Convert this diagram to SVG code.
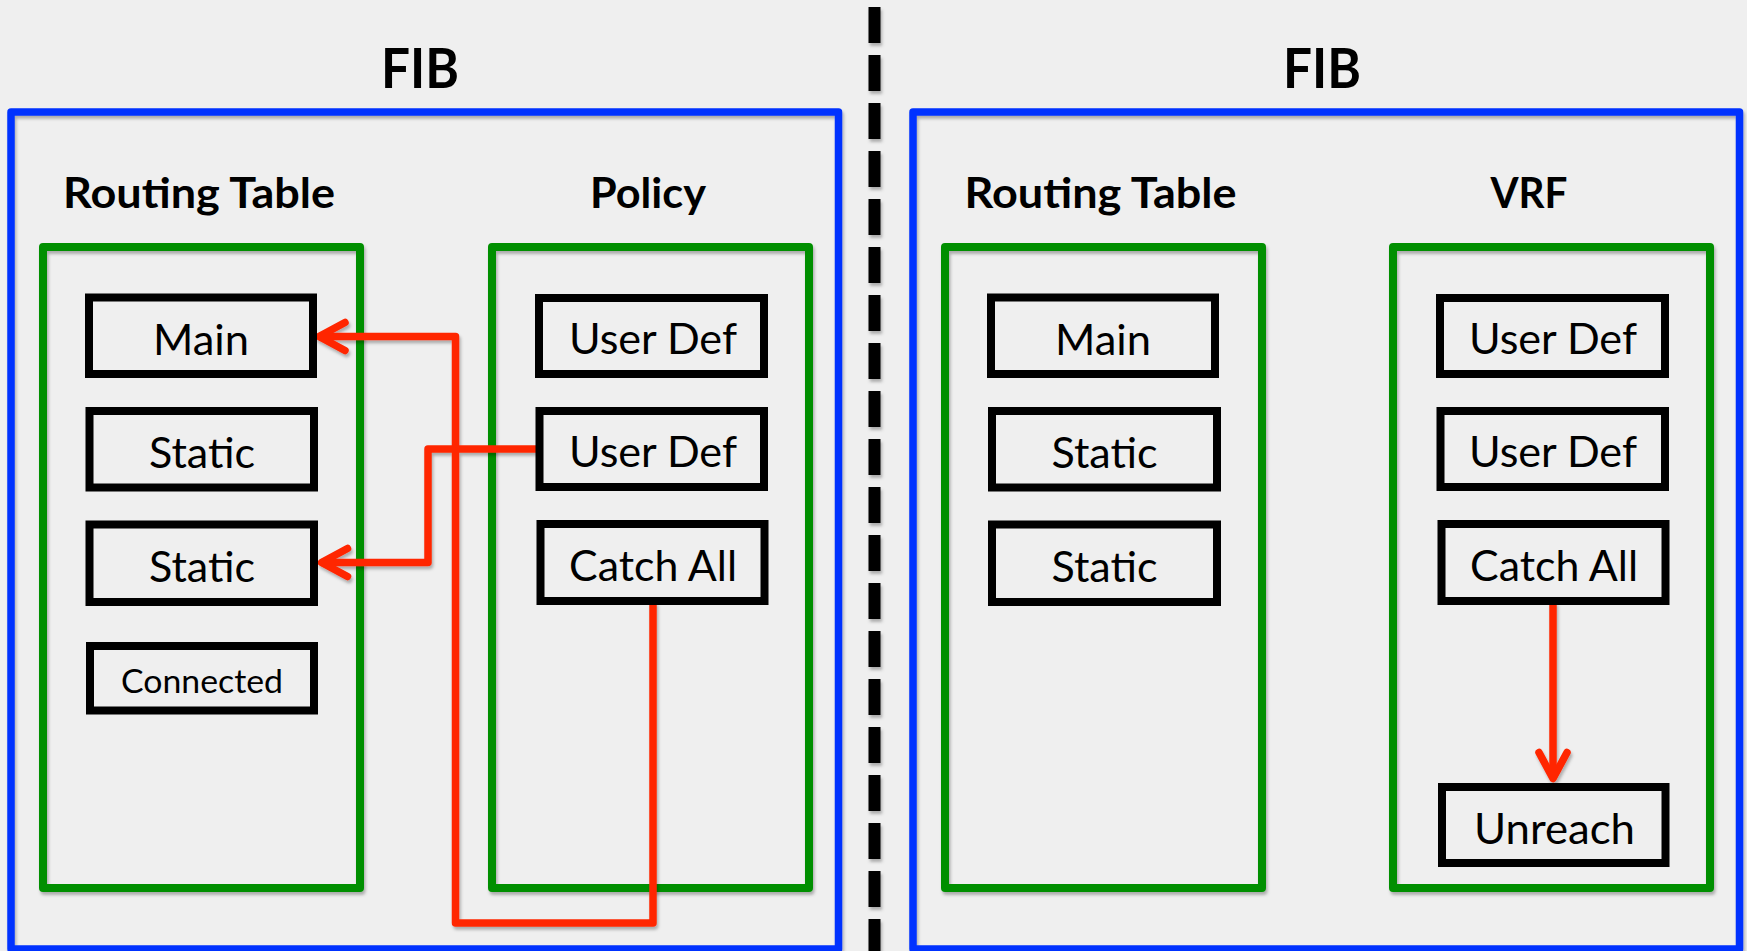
<svg xmlns="http://www.w3.org/2000/svg" width="1747" height="951" viewBox="0 0 1747 951">
  <style>
    .bg { fill: #efefef; }
    .fib { fill: none; stroke: #0433FF; stroke-width: 7.5; stroke-linejoin: round; }
    .table { fill: none; stroke: #008F00; stroke-width: 8; stroke-linejoin: round; }
    .entry { fill: none; stroke: #000; stroke-width: 8; }
    .link { fill: none; stroke: #FF2600; stroke-width: 7.5; stroke-linejoin: round; }
    .title { font-family: Lato, "Open Sans", sans-serif; font-weight: 700; fill: #000; text-anchor: middle; }
    .label { font-family: Lato, "Open Sans", sans-serif; font-weight: 400; fill: #000; text-anchor: middle; }
  </style>
  <defs>
    <filter id="shadow" filterUnits="userSpaceOnUse" x="0" y="0" width="1747" height="951">
      <feDropShadow dx="1.5" dy="3" stdDeviation="1.8" flood-color="#000" flood-opacity="0.28"/>
    </filter>
    <marker id="chev" markerUnits="userSpaceOnUse" viewBox="-35 -25 45 50" markerWidth="45" markerHeight="50" refX="0" refY="0" orient="auto" overflow="visible">
      <path d="M-26,-14 L0,0 L-26,14" fill="none" stroke="#FF2600" stroke-width="7.5" stroke-linecap="round" stroke-linejoin="round"/>
    </marker>
  </defs>

  <rect class="bg" x="0" y="0" width="1747" height="951"/>

  <!-- divider between the two FIB variants -->
  <line id="divider" x1="874.5" y1="7" x2="874.5" y2="951" stroke="#000" stroke-width="12" stroke-dasharray="36 12" filter="url(#shadow)"/>

  <!-- left FIB -->
  <g id="fib-left">
    <text class="title" x="420" y="88" font-size="56" textLength="78" lengthAdjust="spacingAndGlyphs">FIB</text>
    <rect class="fib" x="11" y="112" width="827.5" height="837" filter="url(#shadow)"/>
  </g>
  <g id="rt-left">
    <text class="title" x="199" y="208" font-size="42" textLength="272" lengthAdjust="spacingAndGlyphs">Routing Table</text>
    <rect class="table" x="43" y="247" width="317" height="641" filter="url(#shadow)"/>
  </g>
  <g id="policy">
    <text class="title" x="648" y="208" font-size="42" textLength="116" lengthAdjust="spacingAndGlyphs">Policy</text>
    <rect class="table" x="492" y="247" width="317" height="641" filter="url(#shadow)"/>
  </g>

  <!-- right FIB -->
  <g id="fib-right">
    <text class="title" x="1322" y="88" font-size="56" textLength="78" lengthAdjust="spacingAndGlyphs">FIB</text>
    <rect class="fib" x="913" y="112" width="826.5" height="837" filter="url(#shadow)"/>
  </g>
  <g id="rt-right">
    <text class="title" x="1100.5" y="208" font-size="42" textLength="272" lengthAdjust="spacingAndGlyphs">Routing Table</text>
    <rect class="table" x="945" y="247" width="317" height="641" filter="url(#shadow)"/>
  </g>
  <g id="vrf">
    <text class="title" x="1529" y="208" font-size="42" textLength="77" lengthAdjust="spacingAndGlyphs">VRF</text>
    <rect class="table" x="1393" y="247" width="317" height="641" filter="url(#shadow)"/>
  </g>

  <!-- lookup paths -->
  <g id="connectors" filter="url(#shadow)">
    <path class="link" d="M653,602 V923 H455.5 V336.5 H319" marker-end="url(#chev)"/>
    <path class="link" d="M538,449 H428 V562.5 H321.5" marker-end="url(#chev)"/>
    <path class="link" d="M1553,602 V778.5" marker-end="url(#chev)"/>
  </g>

  <!-- left routing table entries -->
  <g id="l-main">
    <rect class="entry" x="89" y="297.5" width="224" height="76.5"/>
    <text class="label" x="201" y="354.5" font-size="42" textLength="96" lengthAdjust="spacingAndGlyphs">Main</text>
  </g>
  <g id="l-static1">
    <rect class="entry" x="89.5" y="411" width="224.5" height="76.5"/>
    <text class="label" x="202" y="467.5" font-size="42" textLength="106" lengthAdjust="spacingAndGlyphs">Static</text>
  </g>
  <g id="l-static2">
    <rect class="entry" x="89.5" y="524.5" width="224.5" height="77.5"/>
    <text class="label" x="202" y="581.5" font-size="42" textLength="106" lengthAdjust="spacingAndGlyphs">Static</text>
  </g>
  <g id="l-connected">
    <rect class="entry" x="90" y="646" width="224" height="64.5"/>
    <text class="label" x="202" y="692.5" font-size="33" textLength="162" lengthAdjust="spacingAndGlyphs">Connected</text>
  </g>

  <!-- policy entries -->
  <g id="p-userdef1">
    <rect class="entry" x="539" y="298" width="225" height="76"/>
    <text class="label" x="653" y="354" font-size="42" textLength="168" lengthAdjust="spacingAndGlyphs">User Def</text>
  </g>
  <g id="p-userdef2">
    <rect class="entry" x="539.5" y="411" width="224.5" height="76"/>
    <text class="label" x="653" y="467" font-size="42" textLength="168" lengthAdjust="spacingAndGlyphs">User Def</text>
  </g>
  <g id="p-catchall">
    <rect class="entry" x="540.5" y="524" width="224" height="77"/>
    <text class="label" x="653" y="580.5" font-size="42" textLength="168" lengthAdjust="spacingAndGlyphs">Catch All</text>
  </g>

  <!-- right routing table entries -->
  <g id="r-main">
    <rect class="entry" x="991" y="297.5" width="224" height="76.5"/>
    <text class="label" x="1103" y="354.5" font-size="42" textLength="96" lengthAdjust="spacingAndGlyphs">Main</text>
  </g>
  <g id="r-static1">
    <rect class="entry" x="992" y="411" width="225" height="76.5"/>
    <text class="label" x="1104.5" y="467.5" font-size="42" textLength="106" lengthAdjust="spacingAndGlyphs">Static</text>
  </g>
  <g id="r-static2">
    <rect class="entry" x="992" y="524.5" width="225" height="77.5"/>
    <text class="label" x="1104.5" y="581.5" font-size="42" textLength="106" lengthAdjust="spacingAndGlyphs">Static</text>
  </g>

  <!-- VRF entries -->
  <g id="v-userdef1">
    <rect class="entry" x="1440" y="298" width="225" height="76"/>
    <text class="label" x="1553" y="354" font-size="42" textLength="168" lengthAdjust="spacingAndGlyphs">User Def</text>
  </g>
  <g id="v-userdef2">
    <rect class="entry" x="1440.5" y="411" width="224.5" height="76"/>
    <text class="label" x="1553" y="467" font-size="42" textLength="168" lengthAdjust="spacingAndGlyphs">User Def</text>
  </g>
  <g id="v-catchall">
    <rect class="entry" x="1441.5" y="524" width="224" height="77"/>
    <text class="label" x="1554" y="580.5" font-size="42" textLength="168" lengthAdjust="spacingAndGlyphs">Catch All</text>
  </g>
  <g id="v-unreach">
    <rect class="entry" x="1442" y="787" width="223.5" height="76"/>
    <text class="label" x="1554.5" y="844" font-size="42" textLength="161" lengthAdjust="spacingAndGlyphs">Unreach</text>
  </g>
</svg>
